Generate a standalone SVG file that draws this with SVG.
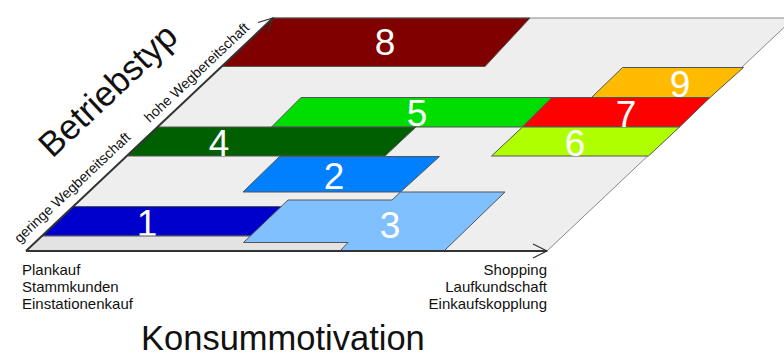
<svg xmlns="http://www.w3.org/2000/svg" width="784" height="356" viewBox="0 0 784 356">
  <defs>
    <marker id="arr" viewBox="-16 -9 18 18" markerWidth="18" markerHeight="18" refX="0" refY="0" orient="auto" markerUnits="userSpaceOnUse">
      <path d="M-14,-7 L0,0 L-14,7" fill="none" stroke="#333" stroke-width="1.2"/>
    </marker>
  </defs>
  <style>
    .band { stroke: #555; stroke-width: 1; stroke-linejoin: miter; }
    .num { font-family: "Liberation Sans", Arial, sans-serif; font-size: 37px; fill: #ffffff; text-anchor: middle; }
    .lbl { font-family: "Liberation Sans", Arial, sans-serif; font-size: 15px; fill: #111; }
    .rlbl { font-family: "Liberation Sans", Arial, sans-serif; font-size: 14.2px; fill: #111; text-anchor: middle; }
    .axis { stroke: #333; stroke-width: 2; fill: none; }
  </style>
  <rect width="784" height="356" fill="#ffffff"/>
  <g id="plane">
    <polygon points="26,251 273,18 794,18 547,251" fill="#eeeeee" stroke="#888" stroke-width="1"/>
  </g>
  <g id="band8">
    <polygon class="band" points="273,18 530,18 485,66.5 222,66.5" fill="#800000"/>
    <text class="num" x="385" y="55">8</text>
  </g>
  <g id="band9">
    <polygon class="band" points="622.5,67.5 743.5,67.5 710,97.5 591.5,97.5" fill="#ffbb00"/>
  </g>
  <g id="band5">
    <polygon class="band" points="301,97.5 552,97.5 522.5,127 271.5,127" fill="#00dd00"/>
    <text class="num" x="417" y="126">5</text>
  </g>
  <g id="band7">
    <polygon class="band" points="552,97.5 710,97.5 679.5,127 522.5,127" fill="#ff0000"/>
  </g>
  <g id="band4">
    <polygon class="band" points="157.5,127 416,127 385,156 128,156" fill="#005f00"/>
    <text class="num" x="219" y="156">4</text>
  </g>
  <g id="band6">
    <polygon class="band" points="522.5,127 679.5,127 648.5,156 491.5,156" fill="#b0ff00"/>
    <text class="num" x="575" y="156">6</text>
  </g>
  <g id="band2">
    <polygon class="band" points="279.5,156.5 439.5,156.5 400.5,192 243,192" fill="#0080ff"/>
    <text class="num" x="334" y="189">2</text>
  </g>
  <g id="band1">
    <polygon class="band" points="73.5,206.5 300,206.5 270,236 42,236" fill="#0000cc"/>
    <text class="num" x="147" y="236">1</text>
  </g>
  <g id="band0">
    <polygon class="band" points="42,236 360,236 345,251 26,251" fill="#e3e3e3"/>
  </g>
  <g id="band3">
    <polygon class="band" points="288,200 392,200 400.5,192 505,192 444,251 340,251 348,242.5 243.5,242.5" fill="#80c0ff"/>
    <text class="num" x="390" y="238">3</text>
  </g>
  <g id="labels79">
    <text class="num" x="680" y="96.5">9</text>
    <text class="num" x="626" y="126.5">7</text>
  </g>
  <g id="connectors">
    <line class="axis" x1="26" y1="251" x2="273" y2="18" marker-end="url(#arr)"/>
    <line class="axis" x1="26" y1="251" x2="547" y2="251" marker-end="url(#arr)"/>
  </g>
  <g id="axis-y-labels">
    <text font-family="Liberation Sans, Arial, sans-serif" font-size="35" fill="#111" text-anchor="middle" transform="translate(116,99) rotate(-43.3)">Betriebstyp</text>
    <text class="rlbl" transform="translate(75.5,191) rotate(-43.3)">geringe Wegbereitschaft</text>
    <text class="rlbl" transform="translate(200,76) rotate(-43.3)">hohe Wegbereitschaft</text>
  </g>
  <g id="axis-x-labels">
    <text class="lbl" x="22" y="275">Plankauf</text>
    <text class="lbl" x="22" y="292">Stammkunden</text>
    <text class="lbl" x="22" y="309">Einstationenkauf</text>
    <text class="lbl" x="547" y="275" text-anchor="end">Shopping</text>
    <text class="lbl" x="547" y="292" text-anchor="end">Laufkundschaft</text>
    <text class="lbl" x="547" y="309" text-anchor="end">Einkaufskopplung</text>
    <text font-family="Liberation Sans, Arial, sans-serif" font-size="34.5" fill="#111" x="141" y="350">Konsummotivation</text>
  </g>
</svg>
